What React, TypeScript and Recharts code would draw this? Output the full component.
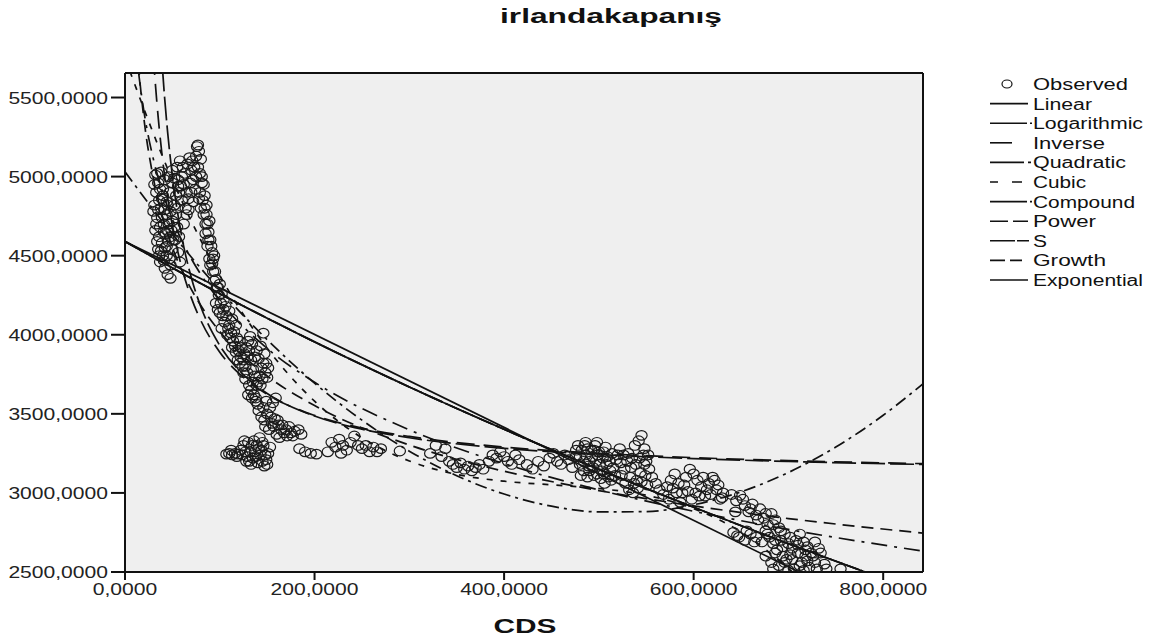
import React from "react";
import {
  ComposedChart,
  Line,
  Scatter,
  XAxis,
  YAxis,
  CartesianGrid,
  ReferenceLine,
} from "recharts";

// ---------------------------------------------------------------------------
// Data
// ---------------------------------------------------------------------------

type Pt = [number, number];

const obsLeftColumn: Pt[] = [
  [32, 5010], [35, 4960], [38, 5030], [33, 4900], [36, 4850], [40, 4920], [42, 4980],
  [30, 4780], [34, 4740], [38, 4800], [41, 4700], [44, 4760], [32, 4660], [36, 4620],
  [39, 4580], [43, 4640], [46, 4700], [35, 4540], [40, 4500], [44, 4560], [48, 4620],
  [37, 4460], [42, 4420], [47, 4480], [50, 4540], [45, 4380], [48, 4357], [40, 4880],
  [44, 4840], [47, 4900], [50, 4960], [52, 4820], [54, 4760], [55, 4680], [50, 4720],
  [53, 4600], [56, 4520], [58, 4460], [46, 5000], [50, 5040],
  [31, 4950], [34, 5020], [37, 4920], [39, 4860], [31, 4820], [35, 4790], [39, 4740],
  [42, 4790], [45, 4820], [33, 4700], [37, 4680], [41, 4650], [45, 4660], [34, 4590],
  [38, 4530], [42, 4550], [46, 4590], [49, 4660], [51, 4600], [36, 4500], [41, 4470],
  [44, 4500], [48, 4440], [52, 4680], [54, 4880], [56, 4940], [52, 4990], [48, 4780],
  [57, 4620], [55, 4800],
];

const obsPeakColumn: Pt[] = [
  [55, 5060], [58, 5100], [60, 5000], [62, 4950], [57, 4900], [60, 4850], [64, 4800],
  [66, 5080], [68, 5120], [70, 5040], [72, 4980], [74, 4920], [76, 5190], [78, 5160],
  [80, 5110], [77, 5060], [81, 5000], [83, 4950], [79, 4900], [82, 4850], [84, 4800],
  [86, 4760], [85, 4700], [88, 4650], [90, 4600], [87, 4560], [92, 4520], [89, 4480],
  [65, 4760], [62, 4700],
  [56, 4980], [59, 4940], [61, 5060], [63, 5020], [65, 4900], [67, 4860], [69, 4960],
  [71, 5100], [73, 5060], [75, 5000], [75, 5130], [77, 5200], [79, 5020], [81, 4960],
  [78, 4860], [80, 4800], [83, 4760], [84, 4880], [86, 4820], [85, 4640], [87, 4700],
  [89, 4720], [88, 4600], [91, 4560], [93, 4480], [90, 4440], [94, 4500], [67, 4790],
  [70, 4900], [72, 4840],
];

const obsSlope: Pt[] = [
  [92, 4450], [95, 4400], [94, 4340], [97, 4300], [99, 4250], [101, 4200], [98, 4160],
  [103, 4120], [105, 4080], [102, 4040], [108, 4000], [110, 4060], [112, 4010], [114, 3960],
  [116, 3930], [118, 3980], [120, 3900], [122, 3860], [119, 3840], [124, 3800], [126, 3880],
  [128, 3920], [130, 3960], [132, 3990], [134, 3940], [129, 3760], [127, 3720], [131, 3680],
  [133, 3650], [136, 3620], [138, 3600], [140, 3700], [142, 3740], [144, 3790], [146, 3820],
  [141, 3850], [137, 3860], [139, 3900], [148, 3760], [150, 3730], [106, 4180], [110, 4150],
  [113, 4100], [96, 4200], [146, 4010],
  [93, 4400], [96, 4350], [98, 4300], [100, 4320], [102, 4260], [104, 4220], [100, 4140],
  [104, 4160], [107, 4120], [109, 4040], [111, 3980], [113, 3920], [115, 4020], [117, 4060],
  [121, 3960], [123, 3920], [125, 3840], [127, 3800], [129, 3860], [131, 3900], [133, 3840],
  [135, 3780], [137, 3740], [139, 3680], [135, 3700], [143, 3680], [145, 3720], [147, 3880],
  [143, 3930], [149, 3820], [151, 3790], [117, 3890], [121, 3820], [125, 3760], [130, 3620],
  [134, 3600],
];

const obsShelf: Pt[] = [
  [138, 3580], [141, 3520], [144, 3480], [147, 3460], [150, 3500], [153, 3540], [156, 3570],
  [159, 3600], [148, 3420], [152, 3400], [155, 3440], [158, 3470], [162, 3430], [165, 3400],
  [168, 3380], [171, 3360], [160, 3370], [163, 3350], [175, 3380], [179, 3390], [183, 3400],
  [186, 3370],
  [140, 3560], [146, 3540], [149, 3580], [154, 3480], [157, 3420], [161, 3460], [166, 3430],
  [170, 3400], [173, 3420], [177, 3360],
];

const obsLowCluster: Pt[] = [
  [107, 3245], [110, 3250], [113, 3240], [116, 3250], [119, 3245], [122, 3270], [125, 3300],
  [127, 3260], [129, 3230], [131, 3200], [133, 3180], [135, 3220], [137, 3260], [139, 3300],
  [141, 3280], [143, 3240], [145, 3200], [147, 3170], [149, 3210], [151, 3250], [153, 3290],
  [136, 3330], [130, 3320], [145, 3320],
  [112, 3270], [118, 3230], [124, 3240], [128, 3200], [132, 3260], [134, 3300], [138, 3230],
  [140, 3190], [144, 3270], [146, 3300], [148, 3240], [150, 3180], [126, 3330], [142, 3350],
];

const obsMidBand: Pt[] = [
  [184, 3280], [190, 3260], [196, 3250], [202, 3245], [218, 3320], [222, 3290], [226, 3340],
  [230, 3300], [234, 3270], [238, 3320], [242, 3360], [246, 3300], [250, 3280], [254, 3300],
  [258, 3260], [262, 3290], [266, 3260], [270, 3280], [228, 3250], [214, 3260], [290, 3265],
];

const obsCenter: Pt[] = [
  [322, 3250], [328, 3300], [334, 3230], [338, 3280], [342, 3200], [346, 3180], [350, 3160],
  [354, 3190], [358, 3150], [362, 3170], [366, 3140], [370, 3160], [374, 3180], [378, 3150],
  [384, 3200], [388, 3240], [392, 3220], [396, 3260], [400, 3230], [404, 3200], [408, 3180],
  [412, 3240], [416, 3210], [424, 3180], [430, 3150], [436, 3200], [442, 3170], [448, 3220],
  [452, 3250], [456, 3200], [460, 3180], [464, 3240], [468, 3210], [472, 3160], [476, 3230],
];

const obsCenterDense: Pt[] = [
  [478, 3300], [482, 3270], [486, 3240], [490, 3200], [494, 3160], [498, 3120], [480, 3180],
  [484, 3140], [488, 3100], [492, 3270], [496, 3300], [500, 3260], [504, 3220], [508, 3180],
  [512, 3140], [502, 3090], [506, 3060], [510, 3100], [514, 3250], [518, 3210], [486, 3320],
  [498, 3320], [507, 3290], [493, 3230], [501, 3180],
  [480, 3230], [484, 3200], [488, 3280], [490, 3140], [495, 3110], [497, 3200], [499, 3240],
  [503, 3140], [505, 3120], [509, 3230], [511, 3200], [515, 3160], [517, 3110], [513, 3080],
  [489, 3170], [481, 3110], [476, 3270], [485, 3300], [495, 3270], [505, 3260],
];

const obsRightHump: Pt[] = [
  [522, 3280], [526, 3240], [530, 3200], [534, 3160], [538, 3300], [542, 3330], [545, 3364],
  [548, 3280], [552, 3240], [524, 3110], [528, 3060], [532, 3020], [536, 3000], [540, 3080],
  [544, 3130], [548, 3180], [551, 3050], [556, 3100], [560, 3060], [564, 3020], [568, 2990],
  [572, 3040], [576, 3080], [580, 3120], [584, 3060], [588, 3000], [592, 3100], [596, 3150],
  [600, 3120], [604, 3080], [608, 3040], [612, 2980], [616, 3060], [620, 3100], [624, 3020],
  [628, 2960], [631, 3000], [598, 2960], [586, 2940], [574, 2960],
  [520, 3240], [523, 3190], [527, 3150], [531, 3250], [535, 3220], [539, 3180], [543, 3220],
  [547, 3240], [550, 3200], [533, 3100], [537, 3060], [541, 3030], [545, 3070], [549, 3110],
  [553, 3150], [590, 3050], [594, 3010], [602, 3000], [606, 2980], [610, 3100], [614, 3020],
  [618, 2990], [622, 3080], [626, 3050], [630, 2970], [582, 3000], [578, 3030],
];

const obsRightBand: Pt[] = [
  [640, 2990], [645, 2950], [649, 2985], [654, 2920], [658, 2880], [662, 2930], [666, 2860],
  [670, 2900], [674, 2840], [678, 2800], [682, 2870], [686, 2830], [690, 2780], [642, 2750],
  [648, 2720], [654, 2700], [660, 2740], [666, 2720], [672, 2690],
  [644, 2880], [652, 2960], [660, 2900], [668, 2830], [676, 2870], [684, 2800], [692, 2760],
  [646, 2730], [656, 2760], [664, 2690],
];

const obsTail: Pt[] = [
  [676, 2760], [680, 2720], [684, 2680], [688, 2640], [692, 2700], [696, 2740], [700, 2680],
  [704, 2650], [708, 2700], [712, 2740], [716, 2690], [720, 2660], [724, 2620], [728, 2690],
  [732, 2650], [676, 2600], [682, 2560], [690, 2540], [698, 2580], [706, 2520], [714, 2560],
  [722, 2530], [730, 2520], [738, 2550], [694, 2600], [702, 2610], [710, 2620], [718, 2600],
  [755, 2520],
  [678, 2740], [686, 2700], [694, 2660], [702, 2720], [710, 2670], [718, 2640], [726, 2600],
  [734, 2620], [686, 2620], [696, 2560], [704, 2580], [712, 2540], [720, 2570], [728, 2560],
  [740, 2520], [684, 2520], [700, 2510], [716, 2510],
];

// fitted curves
const linearFit: Pt[] = [[0, 4590], [711, 2500]];
const exponentialFit: Pt[] = [
  [0, 4590], [100, 4260], [200, 3955], [300, 3670], [400, 3402], [500, 3149], [600, 2909],
  [700, 2679], [781, 2500],
];
const quadraticFit: Pt[] = [
  [0, 5030], [50, 4637], [100, 4283], [150, 3969], [200, 3694], [250, 3460], [300, 3264],
  [350, 3109], [400, 2993], [450, 2916], [500, 2880], [550, 2882], [600, 2925], [650, 3007],
  [700, 3129], [750, 3290], [800, 3491], [842, 3690],
];
const cubicFit: Pt[] = [
  [0, 5750], [50, 4979], [100, 4374], [150, 3915], [200, 3580], [250, 3349], [300, 3202],
  [350, 3117], [400, 3074], [450, 3051], [500, 3028], [550, 2985], [600, 2900], [650, 2753],
  [700, 2522], [710, 2470],
];
const sFit: Pt[] = [
  [39.5, 5690], [40, 5645], [45, 5280], [50, 5004], [60, 4618], [70, 4360], [80, 4177],
  [100, 3932], [125, 3747], [150, 3629], [200, 3486], [250, 3403], [300, 3349], [400, 3282],
  [500, 3243], [600, 3217], [700, 3199], [842, 3180],
];
const inverseFit: Pt[] = [
  [30, 5757], [32, 5590], [35, 5376], [40, 5090], [45, 4868], [50, 4690], [60, 4423],
  [70, 4233], [80, 4090], [100, 3890], [125, 3730], [150, 3623], [200, 3490], [250, 3410],
  [300, 3357], [400, 3290], [500, 3250], [600, 3223], [700, 3204], [842, 3185],
];
const logarithmicFit: Pt[] = [
  [14, 5676], [15, 5625], [20, 5411], [30, 5109], [40, 4896], [50, 4730], [60, 4595],
  [80, 4381], [100, 4215], [150, 3914], [200, 3700], [300, 3399], [400, 3185], [500, 3019],
  [600, 2884], [700, 2769], [842, 2632],
];
const powerFit: Pt[] = [
  [14, 5717], [15, 5648], [20, 5364], [30, 4988], [40, 4737], [50, 4552], [60, 4406],
  [80, 4185], [100, 4020], [150, 3740], [200, 3552], [300, 3303], [400, 3137], [500, 3015],
  [600, 2918], [700, 2838], [842, 2746],
];

const X_TICKS = [0, 200, 400, 600, 800];
const Y_TICKS = [2500, 3000, 3500, 4000, 4500, 5000, 5500];
const X_MAX = 842;
const Y_MIN = 2500;
const Y_MAX = 5655;

const TITLE = "irlandakapanış";
const X_LABEL = "CDS";
const LEGEND_NAMES = [
  "Observed", "Linear", "Logarithmic", "Inverse", "Quadratic", "Cubic",
  "Compound", "Power", "S", "Growth", "Exponential",
];

// ---------------------------------------------------------------------------
// Styling helpers
// ---------------------------------------------------------------------------

const FONT = '"Liberation Sans", Arial, sans-serif';
const INK = "#111";

const toPts = (arr: Pt[]) => arr.map(([x, y]) => ({ x, y }));

const observed = toPts([
  ...obsLeftColumn, ...obsPeakColumn, ...obsSlope, ...obsShelf, ...obsLowCluster,
  ...obsMidBand, ...obsCenter, ...obsCenterDense, ...obsRightHump, ...obsRightBand, ...obsTail,
]);

// curve order matches legend order (after Observed)
const CURVES = [
  { data: linearFit, dash: undefined },
  { data: logarithmicFit, dash: "16 7 3 7" },
  { data: inverseFit, dash: "18 9" },
  { data: quadraticFit, dash: "12 5 3 5" },
  { data: cubicFit, dash: "6 8" },
  { data: exponentialFit, dash: "20 3 2 3" },
  { data: powerFit, dash: "12 7" },
  { data: sFit, dash: "24 5" },
  { data: exponentialFit, dash: "14 4" },
  { data: exponentialFit, dash: undefined },
];

const LEGEND_DASH = [
  "", "38 20", "37 3 2 20", "22 30", "34 4 3 20", "8 14 10 20",
  "37 3 2 20", "18 5 15 20", "25 2 12 20", "15 5 12 20", "38 20",
];
const LEGEND_TEXT_LEN = [95, 59, 110, 72, 93, 53, 102, 63, 14, 73, 110];

function fmt(v: number) {
  return v.toFixed(4).replace(".", ",");
}

// SPSS text is rendered wider than Arial; stretch to the measured widths
function tickTextLen(s: string) {
  let w = 0;
  for (const ch of s) w += ch === "," ? 6 : 11.7;
  return w;
}

const XTick = (props: any) => {
  const { x, y, payload } = props;
  const s = fmt(payload.value);
  return (
    <text
      x={x}
      y={y}
      dy={13}
      textAnchor="middle"
      fontSize={16}
      fontFamily={FONT}
      fill="#222"
      textLength={tickTextLen(s)}
      lengthAdjust="spacingAndGlyphs"
    >
      {s}
    </text>
  );
};

const YTick = (props: any) => {
  const { x, y, payload } = props;
  const s = fmt(payload.value);
  return (
    <text
      x={x}
      y={y}
      dy={6}
      textAnchor="end"
      fontSize={16}
      fontFamily={FONT}
      fill="#222"
      textLength={tickTextLen(s)}
      lengthAdjust="spacingAndGlyphs"
    >
      {s}
    </text>
  );
};

const Ring = (props: any) => {
  const { cx, cy } = props;
  if (cx == null || cy == null) return <g />;
  return <ellipse cx={cx} cy={cy} rx={5.6} ry={4.8} fill="none" stroke="#1a1a1a" strokeWidth={1.2} />;
};

// ---------------------------------------------------------------------------
// Overlay: title, axis title, legend
// ---------------------------------------------------------------------------

function Overlay() {
  return (
    <svg
      width={1158}
      height={644}
      style={{ position: "absolute", left: 0, top: 0, pointerEvents: "none" }}
    >
      <text
        x={611}
        y={23}
        textAnchor="middle"
        fontSize={20}
        fontWeight="bold"
        fontFamily={FONT}
        fill={INK}
        textLength={222}
        lengthAdjust="spacingAndGlyphs"
      >
        {TITLE}
      </text>
      <text
        x={525}
        y={633}
        textAnchor="middle"
        fontSize={20}
        fontWeight="bold"
        fontFamily={FONT}
        fill={INK}
        textLength={63}
        lengthAdjust="spacingAndGlyphs"
      >
        {X_LABEL}
      </text>
      {LEGEND_NAMES.map((name, i) => {
        const cy = 84 + i * 19.6;
        return (
          <g key={name}>
            {i === 0 ? (
              <ellipse cx={1007} cy={cy} rx={5} ry={4} fill="none" stroke={INK} strokeWidth={1.2} />
            ) : (
              <line
                x1={990}
                x2={1032}
                y1={cy}
                y2={cy}
                stroke={INK}
                strokeWidth={1.6}
                strokeDasharray={LEGEND_DASH[i]}
              />
            )}
            <text
              x={1033}
              y={cy + 6}
              fontSize={16}
              fontFamily={FONT}
              fill={INK}
              textLength={LEGEND_TEXT_LEN[i]}
              lengthAdjust="spacingAndGlyphs"
            >
              {name}
            </text>
          </g>
        );
      })}
    </svg>
  );
}

// ---------------------------------------------------------------------------
// Component
// ---------------------------------------------------------------------------

export default function App() {
  return (
    <div
      style={{
        position: "absolute",
        left: 0,
        top: 0,
        width: 1158,
        height: 644,
        background: "#fff",
        fontFamily: FONT,
      }}
    >
      <ComposedChart
        width={1158}
        height={644}
        margin={{ top: 73, right: 235, bottom: 0, left: 0 }}
      >
        <CartesianGrid fill="#efefef" stroke="none" horizontal={false} vertical={false} />
        <XAxis
          type="number"
          dataKey="x"
          domain={[0, X_MAX]}
          ticks={X_TICKS}
          interval={0}
          allowDataOverflow
          height={72}
          tickSize={8}
          tickMargin={2}
          axisLine={{ stroke: INK, strokeWidth: 2 }}
          tickLine={{ stroke: INK, strokeWidth: 2 }}
          tick={XTick}
        />
        <YAxis
          type="number"
          dataKey="y"
          domain={[Y_MIN, Y_MAX]}
          ticks={Y_TICKS}
          interval={0}
          allowDataOverflow
          width={125}
          tickSize={14}
          tickMargin={3}
          axisLine={{ stroke: INK, strokeWidth: 2 }}
          tickLine={{ stroke: INK, strokeWidth: 2 }}
          tick={YTick}
        />
        <ReferenceLine y={Y_MAX} stroke={INK} strokeWidth={2} />
        <ReferenceLine x={X_MAX} stroke={INK} strokeWidth={2} />
        <Scatter data={observed} dataKey="y" shape={Ring} isAnimationActive={false} />
        {CURVES.map((c, i) => (
          <Line
            key={i}
            data={toPts(c.data)}
            dataKey="y"
            type="monotone"
            dot={false}
            activeDot={false}
            stroke={INK}
            strokeWidth={1.7}
            strokeDasharray={c.dash}
            isAnimationActive={false}
          />
        ))}
      </ComposedChart>
      <Overlay />
    </div>
  );
}
